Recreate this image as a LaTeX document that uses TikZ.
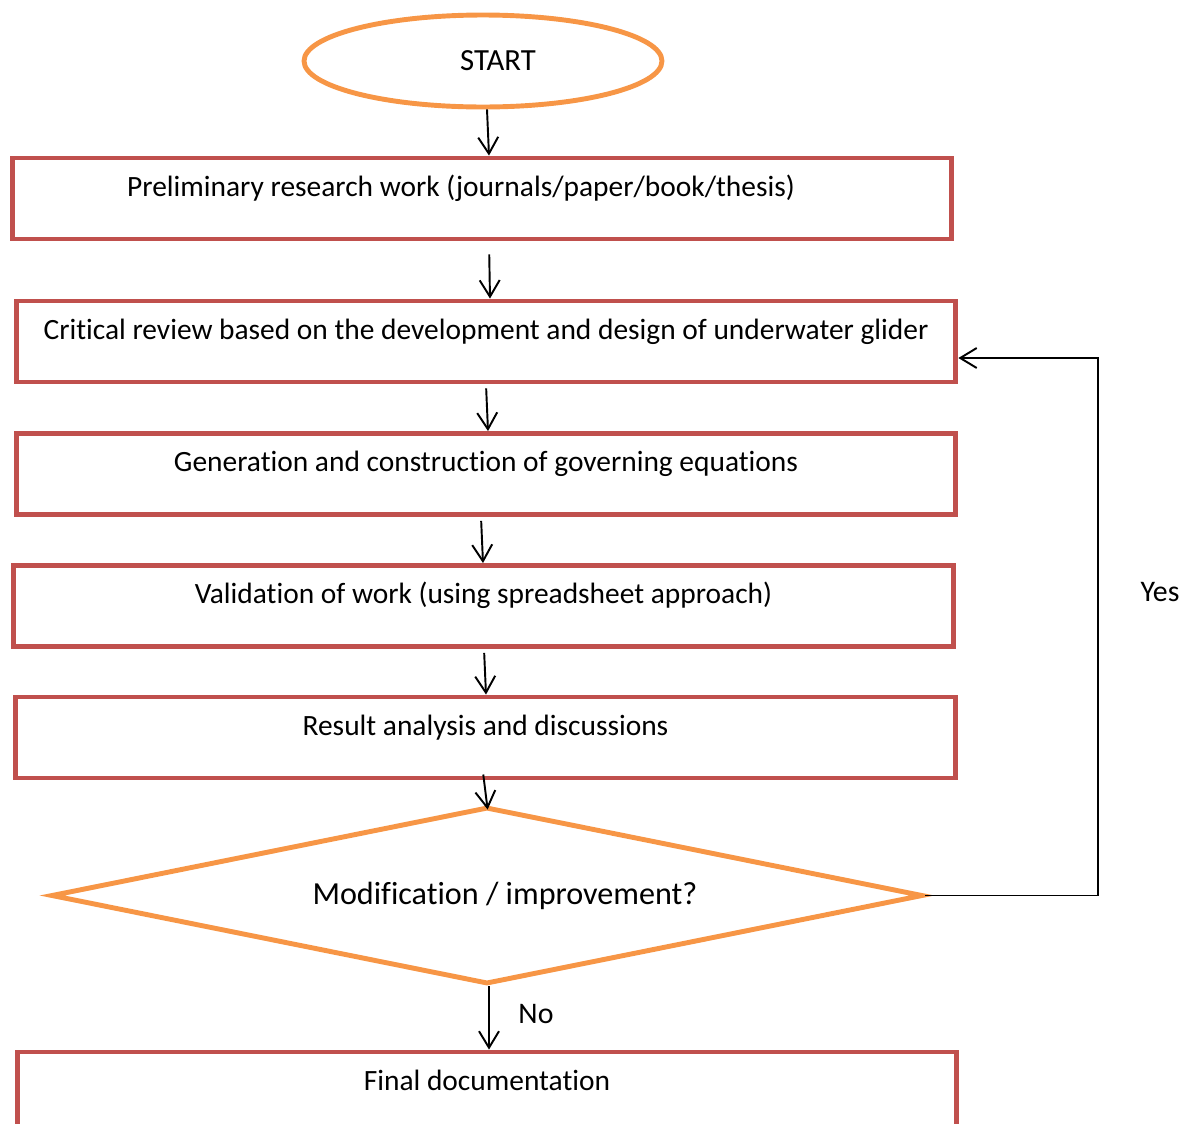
\documentclass[tikz,border=0pt]{standalone}
\usepackage{fontspec}
\setmainfont{Carlito}[Ligatures=NoCommon]
\usetikzlibrary{shapes.geometric,arrows.meta}
\definecolor{boxred}{HTML}{C0504D}
\definecolor{startorange}{HTML}{F79646}
\begin{document}
\begin{tikzpicture}[x=0.02cm,y=-0.02cm,
  box/.style={draw=boxred,line width=2.8pt,minimum width=18.8cm,inner xsep=0pt,inner ysep=0pt,
    text height=0.76cm,text depth=0.86cm,font=\fontsize{16.75}{19}\selectfont},
  startnode/.style={draw=startorange,line width=2.8pt,ellipse,minimum width=7.16cm,minimum height=1.84cm,
    inner sep=0pt,font=\fontsize{17.5}{20}\selectfont},
  decision/.style={draw=startorange,line width=2.8pt,diamond,aspect=5.07,minimum width=17.44cm,
    minimum height=3.54cm,inner sep=0pt,font=\fontsize{18.3}{21}\selectfont},
  arr/.style={line width=1.1pt,-{Straight Barb[length=3.3mm,width=4mm,line width=1.1pt]}},
  lbl/.style={font=\fontsize{17}{20}\selectfont}]
  \useasboundingbox (0,0) rectangle (1199,1123);
  \node[startnode] (start) at (483,61) {\hspace*{0.6cm}START};
  \node[box] (b1) at (482,198.5) {Preliminary research work (journals/paper/book/thesis)\hspace*{0.84cm}};
  \node[box] (b2) at (486,341.5) {Critical review based on the development and design of underwater glider};
  \node[box] (b3) at (486,474) {Generation and construction of governing equations};
  \node[box] (b4) at (483.5,606) {Validation of work (using spreadsheet approach)};
  \node[box] (b5) at (485.5,737.5) {Result analysis and discussions};
  \node[decision] (dec) at (487,895.5) {\hspace*{0.72cm}Modification / improvement?};
  \node[box] (b6) at (487,1092.5) {Final documentation};
  \node[lbl] (yes) at (1160,592) {Yes};
  \node[lbl] (no) at (536,1014) {No};
  \draw[arr] ([xshift=0.08cm]start.south) -- ([xshift=0.14cm]b1.north);
  \draw[arr,shorten <=0.26cm] ([xshift=0.14cm]b1.south) -- ([xshift=0.08cm]b2.north);
  \draw[arr,shorten <=0.08cm] (b2.south) -- ([xshift=0.04cm]b3.north);
  \draw[arr,shorten <=0.08cm] ([xshift=-0.1cm]b3.south) -- ([xshift=-0.01cm]b4.north);
  \draw[arr,shorten <=0.08cm] ([xshift=0.01cm]b4.south) -- ([xshift=0.01cm]b5.north);
  \draw[arr,shorten <=-0.12cm,shorten >=-0.1cm] ([xshift=-0.03cm]b5.south) -- (dec.north);
  \draw[arr] ([xshift=0.04cm]dec.south) -- ([xshift=0.04cm]b6.north);
  \draw[arr] (dec.east) -- ++(173,0) |- ([yshift=-0.33cm]b2.east);
\end{tikzpicture}
\end{document}
